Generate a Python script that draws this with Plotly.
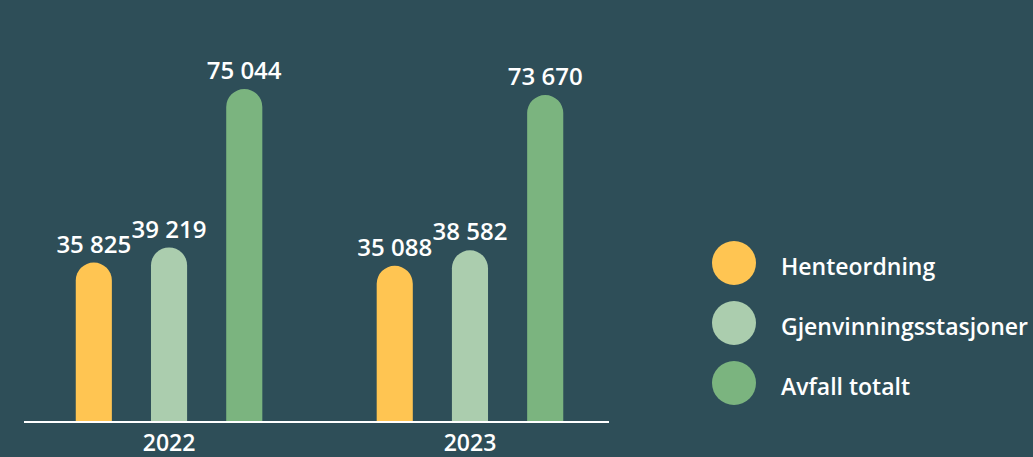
import plotly.graph_objects as go

categories = ["2022", "2023"]
series_names = ["Henteordning", "Gjenvinningsstasjoner", "Avfall totalt"]
henteordning = [35825, 35088]
gjenvinning = [39219, 38582]
avfall_totalt = [75044, 73670]
series_values = [henteordning, gjenvinning, avfall_totalt]
colors = ["#FFC552", "#ABCDAE", "#7BB47F"]

BG = "#2E4E58"
FONT = "Open Sans"

W, H = 1033, 457
ml, mr, mt, mb = 24, 424, 30, 36
plot_w = W - ml - mr
plot_h = H - mt - mb

fig = go.Figure()
for name, vals, col in zip(series_names, series_values, colors):
    fig.add_trace(go.Bar(
        x=categories, y=vals, name=name,
        marker=dict(color=col, line=dict(width=0), cornerradius="50%"),
        texttemplate="%{y:,.0f}", textposition="outside",
        textfont=dict(family=FONT, size=24, color="white", weight=600),
        cliponaxis=False, constraintext="none", showlegend=False,
        hoverinfo="skip",
    ))

# manual legend (circles + text)
legend_y_px = [263, 323, 383]
text_y_px = [266, 326, 386]
cx_px = 734
for name, col, cy, ty in zip(series_names, colors, legend_y_px, text_y_px):
    fig.add_shape(type="circle", xref="paper", yref="paper",
                  xsizemode="pixel", ysizemode="pixel",
                  xanchor=(cx_px - ml) / plot_w, yanchor=(H - mb - cy) / plot_h,
                  x0=-22, x1=22, y0=-22, y1=22,
                  fillcolor=col, line=dict(width=0))
    fig.add_annotation(text=name, xref="paper", yref="paper",
                       x=(779 - ml) / plot_w, y=(H - mb - ty) / plot_h,
                       xanchor="left", yanchor="middle", showarrow=False,
                       font=dict(family=FONT, size=23, color="white", weight=600))

fig.update_layout(
    width=W, height=H,
    margin=dict(l=ml, r=mr, t=mt, b=mb, autoexpand=False),
    paper_bgcolor=BG, plot_bgcolor=BG,
    barmode="group", bargap=0.25, bargroupgap=0.52,
    separators=", ",
    font=dict(family=FONT, color="white"),
)
fig.update_xaxes(
    type="category", range=[-0.482, 1.462],
    showline=True, linecolor="white", linewidth=1.5,
    showgrid=False, zeroline=False, ticks="",
    ticklabelstandoff=1,
    tickfont=dict(family=FONT, size=23, color="white", weight=600),
    fixedrange=True,
)
fig.update_yaxes(
    range=[0, plot_h / 0.004424], visible=False, showgrid=False,
    zeroline=False, fixedrange=True,
)

fig.write_html("out.html", config={"displayModeBar": False},
               post_script="document.body.style.margin='0';document.body.style.background='" + BG + "';")
